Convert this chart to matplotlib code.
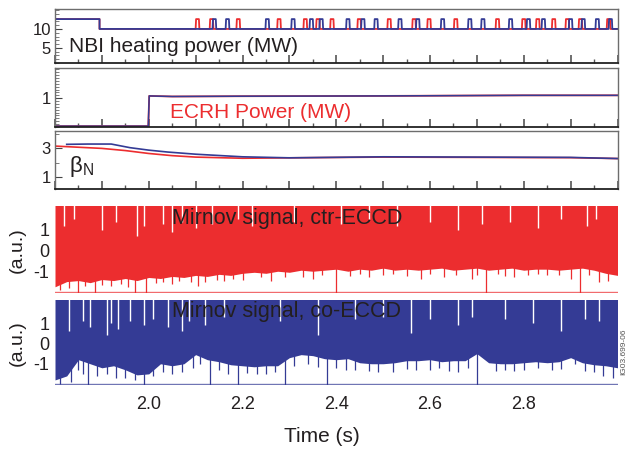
import numpy as np
import matplotlib
matplotlib.use('Agg')
import matplotlib.pyplot as plt
from matplotlib.ticker import MultipleLocator, FixedLocator

plt.rcParams['font.family'] = ['Liberation Sans', 'DejaVu Sans']

RED = '#ec2d2f'
BLUE = '#343b95'
INK = '#231f20'
FRAME = '#6d6d6d'

# --- NBI heating power (MW) ---
nbi_switch = 1.895
nbi_early = 12.6
nbi_base = 10.0
pulse_width = 0.008
nbi_red_pulses = [2.100, 2.130, 2.187, 2.274, 2.330, 2.357, 2.387, 2.445, 2.509, 2.562,
                  2.594, 2.651, 2.740, 2.796, 2.826, 2.860, 2.889, 2.917, 2.977]
nbi_blue_pulses = [2.136, 2.164, 2.249, 2.304, 2.343, 2.364, 2.421, 2.453, 2.481, 2.532,
                   2.570, 2.623, 2.681, 2.709, 2.768, 2.806, 2.838, 2.896, 2.923, 2.953, 2.981]

# --- ECRH power (MW) ---
ecrh_t = [1.80, 1.999, 2.001, 2.05, 2.20, 2.50, 2.80, 3.00]
ecrh_p = [0.03, 0.03, 1.08, 1.06, 1.07, 1.08, 1.10, 1.10]

# --- beta_N ---
beta_red_t = [1.80, 1.85, 1.90, 1.95, 2.00, 2.05, 2.10, 2.20, 2.30, 2.50, 2.70, 2.90, 3.00]
beta_red = [3.16, 3.08, 3.00, 2.85, 2.65, 2.50, 2.40, 2.32, 2.35, 2.40, 2.38, 2.36, 2.30]
beta_blue_t = [1.825, 1.87, 1.92, 1.96, 2.00, 2.04, 2.10, 2.20, 2.30, 2.50, 2.70, 2.90, 3.00]
beta_blue = [3.28, 3.30, 3.30, 3.05, 2.88, 2.75, 2.60, 2.42, 2.35, 2.42, 2.40, 2.38, 2.30]

# --- Mirnov signal lower envelopes (a.u.), sampled every 25 ms ---
mirnov_t = np.round(np.arange(1.8, 3.0001, 0.025), 3)
ctr_lower = [-1.75, -1.5, -1.45, -1.55, -1.4, -1.45, -1.35, -1.45, -1.3, -1.35,
             -1.25, -1.3, -1.2, -1.25, -1.15, -1.2, -1.1, -1.05, -1.1, -1.0,
             -1.05, -0.95, -1.0, -0.95, -0.9, -1.0, -0.9, -0.95, -0.85, -0.95,
             -0.9, -0.95, -0.9, -0.85, -0.95, -0.9, -0.85, -0.95, -0.9, -0.85,
             -0.95, -0.9, -0.9, -0.95, -0.9, -0.85, -0.95, -1.1, -1.2]
co_lower = [-1.8, -1.6, -0.8, -1.0, -1.2, -1.1, -1.3, -1.55, -1.5, -1.0,
            -1.1, -1.0, -0.55, -0.8, -0.9, -1.05, -1.1, -1.15, -1.1, -1.1,
            -0.7, -0.55, -0.6, -0.75, -0.8, -0.75, -0.95, -1.0, -1.0, -0.95,
            -0.85, -0.85, -0.8, -0.9, -0.85, -0.85, -0.5, -0.95, -1.0, -1.0,
            -0.95, -0.9, -0.95, -0.9, -0.7, -0.95, -1.05, -1.1, -1.2]

# downward bursts: (time, lowest value)
ctr_spikes_t = [1.81, 1.83, 1.85, 1.865, 1.885, 1.90, 1.92, 1.94, 1.955, 1.97, 1.995,
                2.015, 2.03, 2.05, 2.065, 2.09, 2.105, 2.12, 2.145, 2.16, 2.18, 2.20,
                2.24, 2.26, 2.29, 2.33, 2.35, 2.37, 2.40, 2.43, 2.45, 2.47, 2.50,
                2.52, 2.55, 2.58, 2.60, 2.63, 2.655, 2.69, 2.70, 2.72, 2.745, 2.76,
                2.78, 2.81, 2.83, 2.85, 2.875, 2.90, 2.92, 2.94, 2.96, 2.98]
ctr_spikes_v = [-1.9, -1.8, -2.1, -1.7, -2.1, -1.65, -1.7, -1.6, -1.75, -2.1, -2.1,
                -1.55, -1.5, -1.6, -1.45, -1.5, -1.7, -1.5, -1.4, -1.45, -1.35, -1.4,
                -1.3, -1.45, -1.3, -1.3, -1.35, -1.2, -2.1, -1.25, -1.15, -1.3, -1.2,
                -1.15, -1.25, -1.35, -1.15, -1.3, -1.2, -1.35, -1.2, -2.1, -1.15, -1.25,
                -1.3, -1.2, -1.15, -1.2, -1.2, -1.35, -2.1, -1.2, -1.5, -1.45]
co_spikes_t = [1.81, 1.835, 1.85, 1.86, 1.87, 1.89, 1.91, 1.93, 1.95, 1.97, 1.99,
               2.01, 2.03, 2.05, 2.07, 2.095, 2.11, 2.13, 2.15, 2.17, 2.19, 2.21,
               2.23, 2.25, 2.27, 2.29, 2.31, 2.34, 2.36, 2.38, 2.40, 2.42, 2.44,
               2.47, 2.49, 2.52, 2.55, 2.57, 2.60, 2.62, 2.64, 2.66, 2.68, 2.70,
               2.74, 2.76, 2.78, 2.80, 2.83, 2.86, 2.88, 2.91, 2.93, 2.95, 2.97, 2.99]
co_spikes_v = [-2.0, -1.9, -1.3, -1.5, -2.2, -1.6, -1.5, -1.7, -1.7, -1.8, -2.2,
               -1.6, -1.4, -1.5, -1.4, -1.2, -1.0, -2.2, -1.3, -1.5, -2.2, -1.45,
               -1.5, -1.5, -1.4, -2.2, -1.1, -1.0, -1.15, -2.2, -1.2, -1.3, -1.3,
               -1.35, -1.4, -1.4, -1.25, -1.3, -1.3, -1.2, -1.35, -1.4, -1.2, -2.2,
               -1.35, -1.3, -1.35, -1.3, -1.2, -1.3, -1.25, -1.0, -1.35, -1.4, -1.6, -1.7]

# gaps reaching down from the top clip: (time, lowest value)
ctr_gaps_t = [1.82, 1.84, 1.90, 1.93, 1.975, 1.99, 2.03, 2.05, 2.07, 2.10, 2.135, 2.19,
              2.22, 2.31, 2.41, 2.47, 2.53, 2.60, 2.66, 2.71, 2.77, 2.83, 2.88, 2.935, 2.955]
ctr_gaps_v = [1.2, 1.5, 1.0, 1.4, 0.7, 1.2, 1.3, 0.9, 1.4, 1.1, 1.3, 1.5,
              1.2, 1.4, 1.3, 1.5, 1.2, 1.4, 1.0, 1.3, 1.4, 1.1, 1.5, 1.2, 1.5]
co_gaps_t = [1.83, 1.86, 1.875, 1.91, 1.92, 1.935, 1.96, 1.99, 2.01, 2.04, 2.07, 2.085,
             2.12, 2.16, 2.28, 2.36, 2.44, 2.50, 2.56, 2.60, 2.66, 2.69, 2.76, 2.82,
             2.88, 2.93, 2.96]
co_gaps_v = [0.6, 1.1, 0.8, 0.4, 1.0, 0.7, 1.1, 0.9, 1.2, 0.8, 0.6, 1.1,
             0.9, 1.3, 1.1, 0.4, 1.2, 1.3, 0.5, 1.2, 0.9, 1.3, 1.2, 1.0,
             0.6, 1.2, 1.1]

XMIN, XMAX = 1.8, 3.0
MIR_LO, MIR_HI = -2.05, 2.15


def nbi_trace(pulses):
    t = [XMIN, nbi_switch, nbi_switch]
    p = [nbi_early, nbi_early, nbi_base]
    for t0 in pulses:
        t += [t0, t0 + 0.001, t0 + pulse_width - 0.001, t0 + pulse_width]
        p += [nbi_base, nbi_early, nbi_early, nbi_base]
    t.append(XMAX)
    p.append(nbi_base)
    return t, p


def style_trace_axes(ax):
    for side in ['top', 'left', 'right']:
        ax.spines[side].set_color(FRAME)
        ax.spines[side].set_linewidth(1.0)
    ax.spines['bottom'].set_color('#222222')
    ax.spines['bottom'].set_linewidth(1.3)
    ax.set_xlim(XMIN, XMAX)
    ax.xaxis.set_major_locator(MultipleLocator(0.1))
    ax.xaxis.set_minor_locator(MultipleLocator(0.05))
    ax.tick_params(axis='x', which='major', direction='in', length=6, width=1.2,
                   color='#555555', labelbottom=False)
    ax.tick_params(axis='x', which='minor', direction='in', length=3, width=1.0,
                   color='#555555')
    ax.tick_params(axis='y', which='major', direction='in', length=5, width=0.8,
                   color='#444444', labelsize=12, labelcolor=INK, pad=3)
    ax.tick_params(axis='y', which='minor', direction='in', length=3, width=0.6,
                   color='#666666')


def mirnov_panel(ax, color, lower, sp_t, sp_v, gap_t, gap_v, label):
    ax.fill_between(mirnov_t, lower, MIR_HI + 1, color=color, lw=0)
    ax.vlines(sp_t, sp_v, 0, color=color, lw=0.9)
    ax.vlines(gap_t, gap_v, MIR_HI + 1, color='white', lw=1.0)
    ax.axhline(MIR_LO + 0.03, color=color, lw=1.0, alpha=0.7)
    ax.set_xlim(XMIN, XMAX)
    ax.set_ylim(MIR_LO, MIR_HI)
    for side in ax.spines:
        ax.spines[side].set_visible(False)
    ax.set_yticks([-1, 0, 1])
    ax.set_yticklabels(['-1', '0', '1'])
    ax.tick_params(axis='y', length=0, labelsize=13, labelcolor=INK, pad=4)
    ax.tick_params(axis='x', length=0)
    ax.text(0.208, 0.86, label, transform=ax.transAxes, fontsize=15.5, color=INK,
            ha='left', va='center')


fig = plt.figure(figsize=(6.27, 4.5), dpi=100)
L, W = 55 / 627, 562.5 / 627


def add_axes(top_px, bottom_px):
    return fig.add_axes([L, 1 - bottom_px / 450, W, (bottom_px - top_px) / 450])


ax1 = add_axes(8.5, 63)
ax2 = add_axes(68, 127)
ax3 = add_axes(131, 189)
ax4 = add_axes(206, 293)
ax5 = add_axes(300, 385)

# NBI
t, p = nbi_trace(nbi_red_pulses)
ax1.plot(t, p, color=RED, lw=1.3)
t, p = nbi_trace(nbi_blue_pulses)
ax1.plot(t, p, color=BLUE, lw=1.3)
ax1.set_ylim(1.0, 15.4)
ax1.yaxis.set_major_locator(FixedLocator([5, 10]))
ax1.yaxis.set_minor_locator(MultipleLocator(1))
style_trace_axes(ax1)
ax1.text(0.025, 0.3, 'NBI heating power (MW)', transform=ax1.transAxes,
         fontsize=15, color=INK, ha='left', va='center')

# ECRH
ax2.plot(ecrh_t, ecrh_p, color=RED, lw=1.3)
ax2.plot(ecrh_t, ecrh_p, color=BLUE, lw=1.1)
ax2.set_ylim(0.0, 2.05)
ax2.yaxis.set_major_locator(FixedLocator([1]))
ax2.yaxis.set_minor_locator(MultipleLocator(0.1))
style_trace_axes(ax2)
ax2.text(0.205, 0.25, 'ECRH Power (MW)', transform=ax2.transAxes,
         fontsize=15, color=RED, ha='left', va='center')

# beta_N
ax3.plot(beta_red_t, beta_red, color=RED, lw=1.2)
ax3.plot(beta_blue_t, beta_blue, color=BLUE, lw=1.2)
ax3.set_ylim(0.2, 4.2)
ax3.yaxis.set_major_locator(FixedLocator([1, 3]))
ax3.yaxis.set_minor_locator(MultipleLocator(1))
style_trace_axes(ax3)
ax3.text(0.025, 0.38, r'$\mathregular{\beta_N}$', transform=ax3.transAxes,
         fontsize=16, color=INK, ha='left', va='center')

# Mirnov signals
mirnov_panel(ax4, RED, ctr_lower, ctr_spikes_t, ctr_spikes_v, ctr_gaps_t, ctr_gaps_v,
             'Mirnov signal, ctr-ECCD')
mirnov_panel(ax5, BLUE, co_lower, co_spikes_t, co_spikes_v, co_gaps_t, co_gaps_v,
             'Mirnov signal, co-ECCD')
ax4.tick_params(axis='x', labelbottom=False)
ax5.set_xticks([2.0, 2.2, 2.4, 2.6, 2.8])
ax5.set_xticklabels(['2.0', '2.2', '2.4', '2.6', '2.8'])
ax5.tick_params(axis='x', labelsize=13, labelcolor=INK, pad=8)

fig.text(17 / 627, 1 - 250 / 450, '(a.u.)', rotation=90, fontsize=14, color=INK,
         ha='center', va='center')
fig.text(17 / 627, 1 - 343 / 450, '(a.u.)', rotation=90, fontsize=14, color=INK,
         ha='center', va='center')
fig.text(322 / 627, 1 - 437 / 450, 'Time (s)', fontsize=15, color=INK,
         ha='center', va='center')
fig.text(624 / 627, 1 - 352 / 450, 'IG03.699-06', rotation=90, fontsize=6,
         color='#555555', ha='center', va='center')

fig.savefig('out.png', dpi=100)
